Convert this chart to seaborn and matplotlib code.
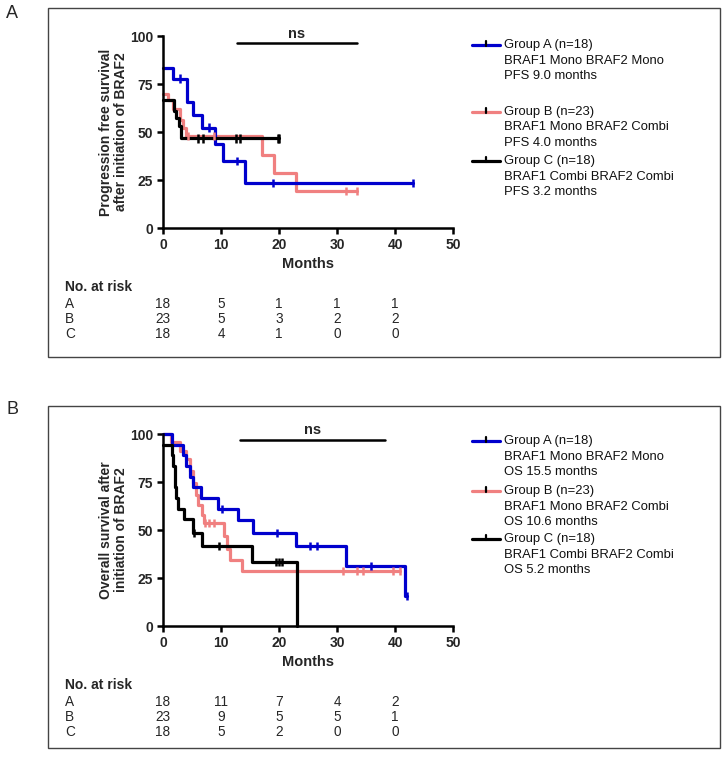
import numpy as np
import pandas as pd
import matplotlib
matplotlib.use("Agg")
import matplotlib.pyplot as plt
from matplotlib.lines import Line2D
from matplotlib.patches import Rectangle
from matplotlib.transforms import blended_transform_factory
import seaborn as sns

# Kaplan-Meier curves (months, % surviving)

W, H = 723, 758

groups = ["A", "B", "C"]
colors = {"A": "#0000CD", "B": "#F08080", "C": "#000000"}

# panel A - progression free survival
pfs_a_t = [0, 1.8, 4.1, 5.2, 6.8, 9.0, 10.3, 14.2, 43.1]
pfs_a_s = [83.3, 77.8, 65.4, 58.8, 52.3, 43.6, 34.9, 23.3, 23.3]
pfs_a_cens = [2.9, 7.9, 12.7, 19.0, 43.1]

pfs_b_t = [0, 0.8, 1.7, 2.9, 3.5, 4.0, 17.1, 19.1, 23.0, 33.5]
pfs_b_s = [69.6, 66.5, 62.0, 56.5, 52.2, 47.8, 38.2, 28.7, 19.1, 19.1]
pfs_b_cens = [4.3, 8.8, 31.5, 33.5]

pfs_c_t = [0, 1.9, 2.3, 2.7, 3.1, 20.0]
pfs_c_s = [66.7, 61.1, 57.2, 53.3, 46.7, 46.7]
pfs_c_cens = [6.0, 6.9, 12.5, 13.3, 19.8, 20.0]

# panel B - overall survival
os_a_t = [0, 1.5, 3.4, 3.9, 4.7, 5.1, 6.6, 9.4, 12.9, 15.6, 22.9, 31.6, 41.8, 42.1]
os_a_s = [100, 94.4, 88.9, 83.3, 77.8, 72.2, 66.7, 61.1, 55.2, 48.6, 41.8, 31.4, 15.7, 15.7]
os_a_cens = [10.2, 19.7, 25.3, 26.6, 35.8, 42.1]

os_b_t = [0, 1.4, 3.0, 3.9, 4.7, 5.1, 5.7, 6.1, 6.7, 7.0, 10.6, 11.0, 11.6, 13.6, 40.9]
os_b_s = [100, 95.7, 91.3, 87.0, 80.8, 74.6, 68.4, 63.2, 57.6, 53.5, 46.8, 40.1, 34.4, 28.7, 28.7]
os_b_cens = [7.3, 8.0, 8.8, 31.0, 33.5, 34.4, 39.6, 40.8]

os_c_t = [0, 1.6, 1.8, 2.0, 2.1, 2.3, 2.5, 3.6, 5.2, 6.8, 15.4, 23.1]
os_c_s = [94.4, 88.9, 83.3, 77.8, 72.2, 66.7, 61.1, 55.6, 48.3, 41.7, 33.2, 0]
os_c_cens = [5.4, 9.7, 19.4, 20.0, 20.6]

risk_times = [0, 10, 20, 30, 40]
pfs_risk = {"A": [18, 5, 1, 1, 1], "B": [23, 5, 3, 2, 2], "C": [18, 4, 1, 0, 0]}
os_risk = {"A": [18, 11, 7, 4, 2], "B": [23, 9, 5, 5, 1], "C": [18, 5, 2, 0, 0]}

pfs_legend = [["Group A (n=18)", "BRAF1 Mono BRAF2 Mono", "PFS 9.0 months"],
              ["Group B (n=23)", "BRAF1 Mono BRAF2 Combi", "PFS 4.0 months"],
              ["Group C (n=18)", "BRAF1 Combi BRAF2 Combi", "PFS 3.2 months"]]
os_legend = [["Group A (n=18)", "BRAF1 Mono BRAF2 Mono", "OS 15.5 months"],
             ["Group B (n=23)", "BRAF1 Mono BRAF2 Combi", "OS 10.6 months"],
             ["Group C (n=18)", "BRAF1 Combi BRAF2 Combi", "OS 5.2 months"]]

sns.set_theme(style="ticks")
plt.rcParams["font.family"] = ["Liberation Sans", "DejaVu Sans"]


def fx(x):
    return x / W


def fy(y):
    return 1 - y / H


def step_value(t, s, x):
    i = np.searchsorted(t, x, side="right") - 1
    return s[max(i, 0)]


def draw_panel(ax, curves, cens, ylabel, ns_span):
    rows = []
    crow = []
    for g in groups:
        t, s = curves[g]
        for a, b in zip(t, s):
            rows.append({"t": a, "s": b, "group": g})
        for c in cens[g]:
            crow.append({"t": c, "s": step_value(t, s, c), "group": g})
    df = pd.DataFrame(rows)
    cdf = pd.DataFrame(crow)
    sns.lineplot(data=df, x="t", y="s", hue="group", hue_order=["B", "A", "C"],
                 palette=colors, estimator=None, sort=False, drawstyle="steps-post",
                 lw=2.3, legend=False, ax=ax, clip_on=False)
    sns.scatterplot(data=cdf, x="t", y="s", hue="group", palette=colors,
                    marker="|", s=36, linewidth=1.8, legend=False, ax=ax,
                    clip_on=False, zorder=4)
    ax.set_xlim(0, 50)
    ax.set_ylim(0, 100)
    ax.set_xticks(range(0, 51, 10))
    ax.set_yticks(range(0, 101, 25))
    sns.despine(ax=ax)
    for sp in ["left", "bottom"]:
        ax.spines[sp].set_linewidth(1.8)
        ax.spines[sp].set_color("black")
    ax.tick_params(length=4, width=1.8, color="black", pad=3, labelsize=10)
    for lab in ax.get_xticklabels() + ax.get_yticklabels():
        lab.set_fontweight("bold")
    ax.set_xlabel("Months", fontsize=10.5, fontweight="bold", va="center")
    ax.xaxis.set_label_coords(0.5, -0.19)
    ax.set_ylabel(ylabel, fontsize=10, fontweight="bold", linespacing=1.05, va="center")
    ax.yaxis.set_label_coords(-0.17, 0.5)
    ax.plot(ns_span[:2], [ns_span[2]] * 2, color="black", lw=1.8, clip_on=False)
    ax.text(np.mean(ns_span[:2]), ns_span[2] + 5.0, "ns", ha="center", va="center",
            fontsize=10.5, fontweight="bold")


def draw_risk(fig, ax, risk, y_head):
    tr = blended_transform_factory(ax.transData, fig.transFigure)
    fig.text(fx(65), fy(y_head), "No. at risk", fontsize=10, fontweight="bold",
             va="center", ha="left")
    for i, g in enumerate(groups):
        y = y_head + 17 + 15 * i
        fig.text(fx(65), fy(y), g, fontsize=9.8, va="center", ha="left")
        for t, n in zip(risk_times, risk[g]):
            ax.text(t, fy(y), str(n), transform=tr, fontsize=9.8, ha="center",
                    va="center")


def draw_legend(fig, entries, y_tops):
    for g, lines, y0 in zip(groups, entries, y_tops):
        fig.add_artist(Line2D([fx(472), fx(500)], [fy(y0), fy(y0)],
                              color=colors[g], lw=2.3))
        fig.add_artist(Line2D([fx(486), fx(486)], [fy(y0 - 4), fy(y0 + 1)],
                              color="black", lw=1.6))
        for k, txt in enumerate(lines):
            fig.text(fx(504), fy(y0 + 15.5 * k), txt, fontsize=9.4, va="center",
                     ha="left", color="#111111")


fig = plt.figure(figsize=(W / 100, H / 100), dpi=100)

# panel frames
fig.add_artist(Rectangle((fx(48), fy(357)), fx(672), 349 / H, fill=False,
                         edgecolor="#444444", lw=1.0))
fig.add_artist(Rectangle((fx(48), fy(748)), fx(672), 342 / H, fill=False,
                         edgecolor="#444444", lw=1.0))
fig.text(fx(12), fy(14), "A", fontsize=13, ha="center", va="center")
fig.text(fx(12), fy(410), "B", fontsize=13, ha="center", va="center")

ax1 = fig.add_axes([fx(163), fy(228), fx(290), 192 / H])
draw_panel(ax1,
           {"A": (pfs_a_t, pfs_a_s), "B": (pfs_b_t, pfs_b_s), "C": (pfs_c_t, pfs_c_s)},
           {"A": pfs_a_cens, "B": pfs_b_cens, "C": pfs_c_cens},
           "Progression free survival\nafter initiation of BRAF2", (12.7, 33.4, 96.3))
draw_risk(fig, ax1, pfs_risk, 287)
draw_legend(fig, pfs_legend, [45, 112, 161])

ax2 = fig.add_axes([fx(163), fy(626), fx(290), 192 / H])
draw_panel(ax2,
           {"A": (os_a_t, os_a_s), "B": (os_b_t, os_b_s), "C": (os_c_t, os_c_s)},
           {"A": os_a_cens, "B": os_b_cens, "C": os_c_cens},
           "Overall survival after\ninitiation of BRAF2", (13.2, 38.3, 96.9))
draw_risk(fig, ax2, os_risk, 685)
draw_legend(fig, os_legend, [441, 491, 539])

fig.savefig("out.png", dpi=100)
